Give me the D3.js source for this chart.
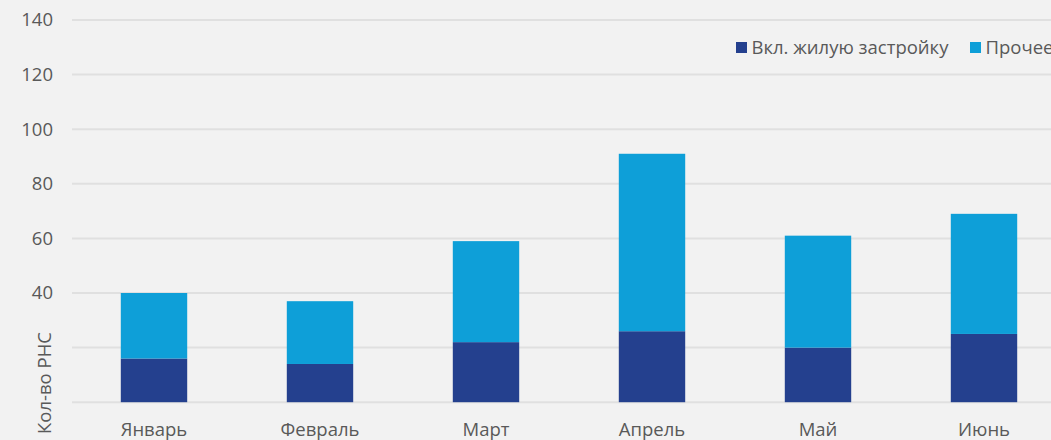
<!DOCTYPE html>
<html>
<head>
<meta charset="utf-8">
<script src="https://cdn.jsdelivr.net/npm/d3@7"></script>
<style>
  html, body { margin: 0; padding: 0; background: #f2f2f2; overflow: hidden; }
  svg { display: block; font-family: "Open Sans", sans-serif; }
</style>
</head>
<body>
<svg id="chart" width="1051" height="440"></svg>
<script>
const months = ["Январь", "Февраль", "Март", "Апрель", "Май", "Июнь"];
const residential = [16, 14, 22, 26, 20, 25];
const other = [24, 23, 37, 65, 41, 44];
const seriesNames = ["Вкл. жилую застройку", "Прочее"];
const seriesColors = ["#24408e", "#0e9fd8"];
const yTicks = [0, 20, 40, 60, 80, 100, 120, 140];
const yTickLabels = ["", "", "40", "60", "80", "100", "120", "140"];
const yTitle = "Кол-во РНС";

const svg = d3.select("#chart");
const W = 1051, H = 440;
const FS = 18.5;
const TXT = "#595959";
svg.append("rect").attr("width", W).attr("height", H).attr("fill", "#f2f2f2");

const x = d3.scaleBand().domain(months).range([71, 1067]).paddingInner(0.6).paddingOuter(0.3);
const y = d3.scaleLinear().domain([0, 140]).range([402.2, 20]);

// gridlines
svg.append("g").selectAll("line").data(yTicks).join("line")
  .attr("x1", 72).attr("x2", W)
  .attr("y1", d => y(d)).attr("y2", d => y(d))
  .attr("stroke", "#e0e0e0").attr("stroke-width", 2);

// y tick labels
svg.append("g").selectAll("text").data(yTicks).join("text")
  .attr("x", 53).attr("y", d => y(d)).attr("dy", "0.35em")
  .attr("text-anchor", "end").attr("font-size", FS).attr("fill", TXT)
  .text((d, i) => yTickLabels[i]);

// stacked bars
const rows = months.map((m, i) => ({ month: m, a: residential[i], b: other[i] }));
const stack = d3.stack().keys(["a", "b"])(rows);
svg.append("g").selectAll("g").data(stack).join("g")
  .attr("fill", (d, i) => seriesColors[i])
  .selectAll("rect").data(d => d).join("rect")
  .attr("x", d => x(d.data.month))
  .attr("width", x.bandwidth())
  .attr("y", d => y(d[1]))
  .attr("height", d => y(d[0]) - y(d[1]));

// x labels
svg.append("g").selectAll("text").data(months).join("text")
  .attr("x", d => x(d) + x.bandwidth() / 2).attr("y", 436)
  .attr("text-anchor", "middle").attr("font-size", FS).attr("fill", TXT)
  .text(d => d);

// y title
svg.append("text")
  .attr("transform", "translate(51,383) rotate(-90)")
  .attr("text-anchor", "middle").attr("font-size", FS).attr("fill", TXT)
  .text(yTitle);

// legend
const legendX = [736, 970];
const lg = svg.append("g").selectAll("g").data(seriesNames).join("g")
  .attr("transform", (d, i) => `translate(${legendX[i]},42)`);
lg.append("rect").attr("width", 11).attr("height", 11).attr("fill", (d, i) => seriesColors[i]);
lg.append("text").attr("x", 15.5).attr("y", 5.5).attr("dy", "0.35em")
  .attr("font-size", FS).attr("fill", TXT).text(d => d);
</script>
</body>
</html>
